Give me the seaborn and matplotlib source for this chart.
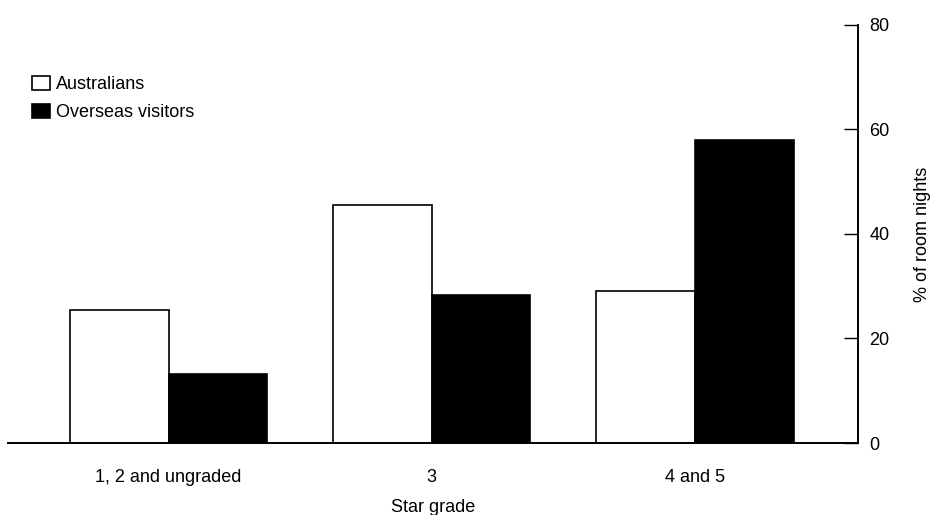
import matplotlib
matplotlib.use("Agg")
import matplotlib.pyplot as plt
import seaborn as sns
import pandas as pd

categories = ["1, 2 and ungraded", "3", "4 and 5"]
australians = [25.5, 45.5, 29.0]
overseas = [13.3, 28.4, 58.0]
series_names = ["Australians", "Overseas visitors"]
yticks = [0, 20, 40, 60, 80]

df = pd.DataFrame({
    "grade": categories * 2,
    "value": australians + overseas,
    "series": [series_names[0]] * 3 + [series_names[1]] * 3,
})

sns.set_style("white")
plt.rcParams["font.family"] = ["Liberation Sans Narrow", "Liberation Sans", "DejaVu Sans"]
plt.rcParams["text.color"] = "black"
plt.rcParams["axes.labelcolor"] = "black"
plt.rcParams["xtick.color"] = "black"
plt.rcParams["ytick.color"] = "black"

fig = plt.figure(figsize=(9.3, 5.15), dpi=100)
ax = fig.add_axes([0.0086, 0.1398, 0.914, 0.8117])
sns.barplot(data=df, x="grade", y="value", hue="series", order=categories,
            hue_order=series_names, palette=["white", "black"], edgecolor="black",
            linewidth=1.2, width=0.75, saturation=1, ax=ax, legend=True)

ax.set_xlim(-0.61, 2.62)
ax.set_ylim(0, 80)
ax.set_yticks(yticks)
ax.yaxis.tick_right()
ax.yaxis.set_label_position("right")
ax.tick_params(axis="y", direction="in", length=10, width=1, pad=8, labelsize=13, colors="black")
ax.tick_params(axis="x", length=0, pad=19, labelsize=13, colors="black")
for s in ["top", "left"]:
    ax.spines[s].set_visible(False)
ax.spines["right"].set_color("black")
ax.spines["bottom"].set_color("black")
ax.spines["right"].set_linewidth(1.4)
ax.spines["bottom"].set_linewidth(1.4)
ax.set_xlabel("Star grade", fontsize=13, labelpad=9, color="black")
ax.set_ylabel("% of room nights", fontsize=13, labelpad=18, color="black")

leg = ax.legend(loc="upper left", bbox_to_anchor=(0.02, 0.895), frameon=False,
                fontsize=13, handlelength=1.0, handleheight=0.8, handletextpad=0.3,
                labelspacing=0.6, borderaxespad=0)
for t in leg.get_texts():
    t.set_color("black")

fig.savefig("out.png", dpi=100)
